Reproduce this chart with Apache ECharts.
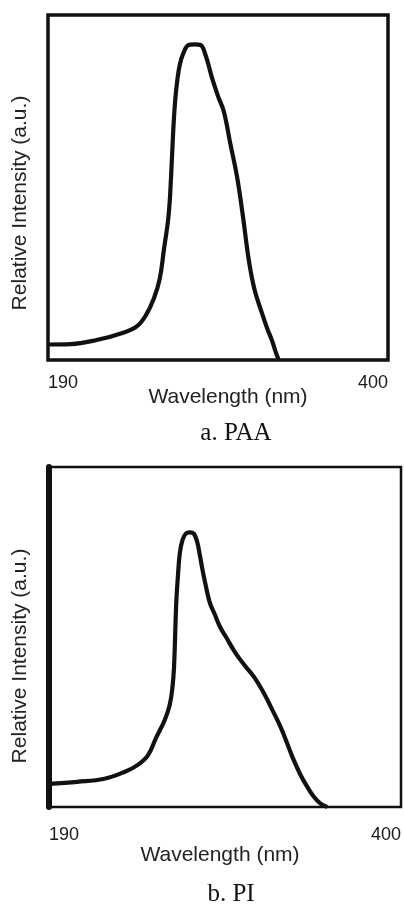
<!DOCTYPE html>
<html>
<head>
<meta charset="utf-8">
<script src="https://cdn.jsdelivr.net/npm/echarts@6/dist/echarts.min.js"></script>
<style>
html,body{margin:0;padding:0;background:#fff;}
#c{width:404px;height:907px;}
</style>
</head>
<body>
<div id="c"></div>
<script>
// Wavelength range (nm) and tick labels
var xMin = 190, xMax = 400;
var tickLabels = ['190', '400'];

// Panel a: PAA  [wavelength (nm), relative intensity (0-100 of frame height)]
var paaWavelength = [190, 204, 220, 237, 245, 250.5, 255.5, 259, 261.6, 264.5, 266, 267.3, 268.6, 270, 271.5, 273.5, 276.8, 280.5, 284.2, 287.3, 291.4, 295, 298.6, 302.7, 306.8, 310.3, 314, 317.5, 322.2, 325.5, 328.4, 330.5, 332.5];
var paaIntensity  = [4.5, 4.6, 5.8, 8, 9.8, 13, 18, 23.5, 32, 42, 53, 66, 75.5, 81.6, 85.8, 88.8, 91.3, 91.5, 91.3, 88.4, 81.6, 76.5, 72, 62.5, 53, 42, 29, 20.5, 13.5, 9, 5.6, 2.5, 0];

// Panel b: PI
var piWavelength = [190, 207, 223, 235, 243, 249, 254, 259, 262, 263.6, 264.6, 265.9, 267, 268, 269.6, 271.6, 274, 276.4, 278.4, 279.8, 281.5, 283.7, 286, 288.7, 292, 295.6, 301.5, 307.5, 312.4, 318.3, 323, 328.2, 332, 336.1, 340, 344.1, 348, 352, 356];
var piIntensity  = [6.8, 7.4, 8.3, 10.3, 12.4, 15.2, 20.5, 25.5, 30, 35, 41.2, 59.8, 68.5, 74.5, 78.5, 80.4, 80.8, 80.4, 78, 74.6, 70, 64.7, 60, 56.9, 53, 50, 45.1, 41.2, 38.2, 33.4, 28.8, 23.5, 18.8, 13.7, 9.5, 5.9, 3, 1, 0];

// Texts
var xTitle = 'Wavelength (nm)';
var yTitle = 'Relative Intensity (a.u.)';
var captionA = 'a. PAA';
var captionB = 'b. PI';

function pairs(xs, ys) { return xs.map(function (x, i) { return [x, ys[i]]; }); }

var INK = '#111';
var sans = '"Liberation Sans", Arial, sans-serif';
var serif = '"Liberation Serif", "Times New Roman", serif';

function xAxisFor(gridIndex, margin) {
  return {
    type: 'value', gridIndex: gridIndex, min: xMin, max: xMax, interval: 10,
    axisLine: { show: false },
    axisTick: { show: false },
    splitLine: { show: false },
    axisLabel: {
      margin: margin, color: '#1a1a1a', fontFamily: sans, fontSize: 18,
      showMinLabel: true, showMaxLabel: true,
      alignMinLabel: 'left', alignMaxLabel: 'right',
      formatter: function (v) {
        if (v === xMin) return tickLabels[0];
        if (v === xMax) return tickLabels[1];
        return '';
      }
    }
  };
}
function yAxisFor(gridIndex, lw) {
  return {
    type: 'value', gridIndex: gridIndex, min: 0, max: 100,
    axisLine: { show: lw > 0, lineStyle: { color: INK, width: lw } },
    axisTick: { show: false }, axisLabel: { show: false }, splitLine: { show: false }
  };
}

var chart = echarts.init(document.getElementById('c'), null, { renderer: 'canvas' });
chart.setOption({
  animation: false,
  backgroundColor: '#fff',
  grid: [
    { left: 48, right: 16, top: 15, bottom: 547, show: true, borderColor: INK, borderWidth: 3.5, backgroundColor: 'transparent' },
    { left: 49, right: 2, top: 467, bottom: 100, show: true, borderColor: INK, borderWidth: 2.5, backgroundColor: 'transparent' }
  ],
  xAxis: [xAxisFor(0, 14), xAxisFor(1, 19)],
  yAxis: [yAxisFor(0, 0), yAxisFor(1, 6)],
  series: [
    { type: 'line', xAxisIndex: 0, yAxisIndex: 0, data: pairs(paaWavelength, paaIntensity),
      showSymbol: false, smooth: 0.4, lineStyle: { color: INK, width: 4.2 } },
    { type: 'line', xAxisIndex: 1, yAxisIndex: 1, data: pairs(piWavelength, piIntensity),
      showSymbol: false, smooth: 0.4, lineStyle: { color: INK, width: 4.2 } }
  ],
  graphic: [
    { type: 'text', x: 228, y: 397, style: { text: xTitle, fill: '#222', font: '21px ' + sans, textAlign: 'center', textVerticalAlign: 'middle' } },
    { type: 'text', x: 236, y: 433, style: { text: captionA, fill: '#111', font: '25px ' + serif, textAlign: 'center', textVerticalAlign: 'middle' } },
    { type: 'text', x: 20, y: 203, rotation: Math.PI / 2, style: { text: yTitle, fill: '#222', font: '21px ' + sans, textAlign: 'center', textVerticalAlign: 'middle' } },
    { type: 'text', x: 220, y: 855, style: { text: xTitle, fill: '#222', font: '21px ' + sans, textAlign: 'center', textVerticalAlign: 'middle' } },
    { type: 'text', x: 231, y: 894, style: { text: captionB, fill: '#111', font: '25px ' + serif, textAlign: 'center', textVerticalAlign: 'middle' } },
    { type: 'text', x: 20, y: 656, rotation: Math.PI / 2, style: { text: yTitle, fill: '#222', font: '21px ' + sans, textAlign: 'center', textVerticalAlign: 'middle' } }
  ]
});
</script>
</body>
</html>
